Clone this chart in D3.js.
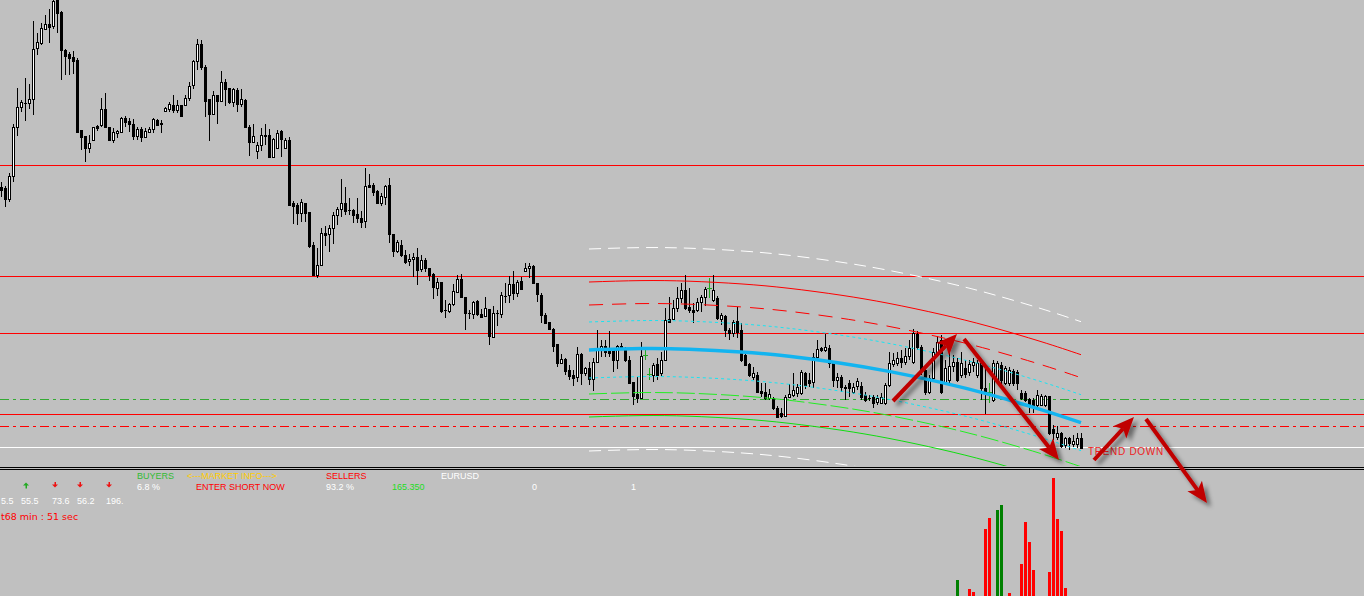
<!DOCTYPE html>
<html><head><meta charset="utf-8">
<script src="https://cdn.jsdelivr.net/npm/d3@7"></script>
<style>html,body{margin:0;padding:0;background:#c0c0c0;overflow:hidden}svg{display:block}</style>
</head><body><svg id="c" width="1364" height="596"></svg>
<script>
// ---- DATA (prices in points) ----
const candles = [
[813,818,803,810],[812,814,793,801],[801,827,798,824],[824,876,818,873],[873,912,864,893],[893,900,888,898],[897,922,879,897],[897,916,891,901],[901,979,885,951],[952,967,945,958],
[957,977,955,972],[971,985,970,976],[976,991,957,973],[974,1004,971,999],[1000,1004,967,987],[988,989,920,950],[950,951,925,944],[946,948,925,942],[943,949,926,939],[940,942,868,868],
[870,870,850,863],[864,864,838,852],[852,865,847,857],[860,873,859,873],[874,875,869,872],[875,902,873,891],[891,907,873,873],[873,873,860,860],[860,872,857,868],[867,870,862,869],
[868,883,867,882],[882,884,873,878],[879,882,868,876],[876,881,860,864],[864,873,860,871],[871,873,858,863],[863,872,862,869],[868,873,867,871],[871,882,867,881],[880,881,874,875],
[877,880,867,876],[889,893,888,892],[891,898,888,896],[895,905,887,890],[890,900,887,895],[895,895,883,884],[895,905,894,902],[902,918,899,914],[915,940,911,939],[939,961,930,956],
[956,960,930,933],[933,935,883,899],[901,901,859,886],[886,909,885,905],[905,905,876,899],[899,929,898,918],[918,921,894,911],[912,912,896,898],[898,912,893,911],[910,912,888,896],
[896,911,893,901],[900,901,873,873],[873,875,844,858],[858,876,857,864],[849,858,841,855],[855,872,849,865],[865,876,855,864],[865,871,842,843],[843,862,842,861],[852,870,851,867],
[869,870,843,861],[852,862,851,860],[860,863,795,795],[797,799,776,794],[795,797,775,787],[787,801,778,798],[797,797,778,787],[788,788,752,754],[755,758,725,725],[725,752,722,735],
[735,772,734,767],[767,774,754,765],[766,775,748,772],[772,788,756,785],[785,793,775,791],[791,821,783,797],[797,813,785,789],[790,802,785,790],[790,791,777,785],[786,802,777,782],
[782,789,772,778],[779,832,772,814],[815,826,813,813],[815,817,804,808],[809,810,797,797],[797,807,794,804],[803,815,795,814],[815,822,757,766],[766,766,743,749],[749,760,747,758],
[755,760,743,745],[745,750,736,738],[739,746,734,741],[741,747,723,743],[743,752,715,730],[731,745,728,740],[740,742,728,732],[732,732,719,725],[726,727,701,713],[712,722,704,718],
[718,718,687,689],[690,700,682,690],[689,697,687,696],[696,716,694,709],[708,725,707,721],[721,726,703,703],[703,703,670,687],[687,690,681,687],[686,699,681,698],[699,700,684,686],
[686,691,682,683],[684,703,683,692],[691,691,655,664],[663,694,663,687],[687,690,674,687],[686,708,682,705],[704,717,697,704],[705,724,697,716],[716,729,700,707],[707,720,703,718],
[719,723,710,711],[729,737,728,732],[732,737,722,734],[734,735,717,717],[717,717,698,706],[705,707,677,685],[685,687,676,677],[678,678,670,671],[671,672,648,654],[656,656,633,637],
[637,646,636,641],[641,642,625,629],[630,635,620,624],[625,630,614,622],[623,653,618,646],[646,647,615,627],[627,633,624,632],[632,638,615,621],[621,642,609,638],[638,670,637,652],
[651,660,643,654],[654,660,643,648],[652,669,643,647],[650,650,628,640],[640,655,631,654],[654,657,650,653],[650,653,638,640],[640,644,617,617],[618,618,595,604],[606,623,597,602],
[602,658,601,644],[645,650,640,645],[626,632,620,626],[625,637,618,635],[636,642,620,625],[627,648,624,640],[640,692,640,680],[681,703,677,678],[681,700,680,692],[692,713,688,702],
[702,717,697,710],[710,725,690,692],[693,712,687,690],[690,697,677,688],[690,702,688,698],[698,705,688,703],[703,713,694,711],[712,722,702,712],[700,725,698,710],[702,704,680,682],
[681,687,675,685],[684,685,663,670],[670,672,660,667],[667,680,663,678],[679,693,662,668],[670,677,638,640],[645,647,634,635],[636,637,623,625],[623,633,620,627],[625,628,607,608],
[609,617,603,607],[608,617,600,602],[602,611,600,606],[602,603,590,592],[592,594,583,583],[587,592,582,584],[584,605,583,603],[603,616,602,606],[605,627,603,610],[607,616,603,613],
[607,630,605,628],[627,628,611,615],[620,627,613,617],[618,647,612,643],[643,660,642,651],[652,653,648,650],[650,666,648,653],[652,655,632,637],[637,638,613,620],[620,627,612,623],
[623,625,608,613],[613,615,600,612],[617,620,603,612],[608,617,606,613],[614,622,610,619],[614,618,600,603],[605,608,598,600],[602,605,599,602],[603,605,592,597],[598,605,595,602],
[597,607,596,603],[597,617,595,615],[615,648,613,637],[636,647,633,640],[637,648,634,642],[642,650,632,638],[638,652,635,644],[644,660,640,652],[638,671,636,667],[666,669,650,653],
[653,655,625,630],[630,634,605,608],[608,625,606,622],[622,652,620,648],[648,664,645,658],[660,665,606,608],[618,640,615,632],[620,648,617,634],[634,645,628,638],[638,642,618,620],
[625,648,622,637],[632,640,622,626],[628,640,624,636],[635,642,628,638],[625,640,622,637],[637,638,600,612],[612,632,586,608],[608,617,597,608],[600,640,598,637],[620,639,618,637],
[635,638,616,620],[617,634,615,632],[617,633,614,630],[629,631,614,617],[628,630,610,617],[607,610,600,602],[607,609,598,600],[601,602,587,595],[600,602,587,595],[595,610,593,605],
[595,606,594,604],[595,605,593,604],[604,604,565,567],[571,575,560,567],[563,574,560,567],[567,568,552,554],[555,563,552,562],[562,563,550,557],[556,565,553,559],[556,567,552,562],
[562,567,551,552]
];
const signalBars = [161, 162, 177, 247];           // bars painted green by the indicator
const levelPrices = [835, 724, 667, 586, 574, 601, 553];
const channelIdx = [147,160,172,185,197,210,222,235,247,260,270];
const channelMid = [650,651.4,650.8,648.1,643.7,636.8,628.6,617.6,605.6,590.4,577.3];
const bandOffsets = [101, 68, 45, 28, -28, -44, -67, -101];
const histIdx = [239,242,243,246,247,249,250,252,255,256,257,258,262,263,264,265,266];
const histVal = [20,11,8,71,82,90,95,7,36,78,58,30,28,122,81,69,12];
const histUp  = [1,0,0,0,0,1,1,0,0,0,0,0,0,0,0,0,0];
const trendArrows = [ // [idx1, price1, idx2, price2]
  [223, 599, 239, 666], [240.75, 661, 264.5, 540], [273.25, 540, 283.25, 583], [286.25, 581, 301.5, 497]
];
const infoTexts = ['BUYERS','<---MARKET INFO--->','SELLERS','EURUSD','6.8 %','ENTER SHORT NOW','93.2 %','165.350','0','1','5.5','55.5','73.6','56.2','196.'];
const timerText = 't68 min : 51 sec';
const trendText = 'TREND DOWN';
const voteArrows = ['up','down','down','down'];

// ---- LAYOUT ----
const W = 1364, H = 596, MAIN_H = 466;
const svg = d3.select('#c');
const x = d3.scaleLinear().domain([0, 270]).range([1, 1081]);
const y = d3.scaleLinear().domain([1000, 534]).range([0, MAIN_H]);
const yH = d3.scaleLinear().domain([0, 130]).range([600, 470]);

svg.append('rect').attr('width', W).attr('height', H).attr('fill', '#c0c0c0');
const defs = svg.append('defs');
defs.append('clipPath').attr('id', 'clipMain').append('rect').attr('width', W).attr('height', MAIN_H);
const f = defs.append('filter').attr('id', 'shadow').attr('x', '-30%').attr('y', '-30%').attr('width', '160%').attr('height', '160%');
f.append('feDropShadow').attr('dx', 4).attr('dy', 4).attr('stdDeviation', 2).attr('flood-color', '#000').attr('flood-opacity', 0.45);

const gMain = svg.append('g').attr('clip-path', 'url(#clipMain)');

// horizontal levels
const levelStyle = [
  {c:'#ff0000', d:null}, {c:'#ff0000', d:null}, {c:'#ff0000', d:null}, {c:'#ff0000', d:null},
  {c:'#ff0000', d:'9,4,3,4'}, {c:'#33aa33', d:'9,4,3,4'}, {c:'#ffffff', d:null}
];
gMain.selectAll('line.lvl').data(levelPrices).join('line').attr('class', 'lvl')
  .attr('x1', 0).attr('x2', W)
  .attr('y1', d => Math.round(y(d)) + 0.5).attr('y2', d => Math.round(y(d)) + 0.5)
  .attr('stroke', (d, i) => levelStyle[i].c).attr('stroke-width', 1)
  .attr('stroke-dasharray', (d, i) => levelStyle[i].d);

// candles
const gC = gMain.append('g').attr('shape-rendering', 'crispEdges');
candles.forEach((d, i) => {
  const [o, h, l, c] = d;
  const cx = Math.round(x(i));
  const sig = signalBars.includes(i);
  const col = sig ? '#22aa22' : '#000';
  const yh = Math.round(y(h)), yl = Math.round(y(l));
  gC.append('rect').attr('x', cx).attr('y', yh).attr('width', 1).attr('height', Math.max(1, yl - yh)).attr('fill', col);
  const top = Math.round(y(Math.max(o, c))), bot = Math.round(y(Math.min(o, c)));
  if (bot - top < 1 || sig) {
    const w = sig ? 5 : 3;
    gC.append('rect').attr('x', cx - (w - 1) / 2).attr('y', top).attr('width', w).attr('height', 1).attr('fill', col);
  } else {
    gC.append('rect').attr('x', cx - 1).attr('y', top).attr('width', 3).attr('height', bot - top + 1).attr('fill', '#000');
    if (c > o && bot - top > 1) {
      gC.append('rect').attr('x', cx).attr('y', top + 1).attr('width', 1).attr('height', bot - top - 1).attr('fill', '#fff');
    }
  }
});

// regression channel
const bandStyle = [
  {c:'#ffffff', w:1, d:'12,7'}, {c:'#ff0000', w:1, d:null}, {c:'#ff0000', w:1, d:'14,9'}, {c:'#19e4f2', w:1, d:'3,3'},
  {c:'#19e4f2', w:1, d:'3,3'}, {c:'#22ee22', w:1, d:'18,4'}, {c:'#11dd11', w:1, d:null}, {c:'#ffffff', w:1, d:'12,7'}
];
const lineGen = off => d3.line().x((d, k) => x(channelIdx[k])).y(d => y(d + off)).curve(d3.curveNatural)(channelMid);
bandOffsets.forEach((off, k) => {
  gMain.append('path').attr('d', lineGen(off)).attr('fill', 'none')
    .attr('stroke', bandStyle[k].c).attr('stroke-width', bandStyle[k].w).attr('stroke-dasharray', bandStyle[k].d);
});
gMain.append('path').attr('d', lineGen(0)).attr('fill', 'none').attr('stroke', '#12b4f0').attr('stroke-width', 3.5);

// TREND DOWN text
svg.append('text').attr('x', x(271.75)).attr('y', y(545)).text(trendText)
  .attr('font-family', 'Liberation Sans, Arial, sans-serif').attr('font-size', 10).attr('letter-spacing', 0.7).attr('fill', '#ee1c1c');

// separator
svg.append('rect').attr('x', 0).attr('y', 467).attr('width', W).attr('height', 1).attr('fill', '#000');
svg.append('rect').attr('x', 0).attr('y', 469).attr('width', W).attr('height', 1).attr('fill', '#000');

// histogram
svg.append('g').attr('shape-rendering', 'crispEdges').selectAll('rect').data(histIdx).join('rect')
  .attr('x', d => Math.round(x(d)) - 1).attr('width', 3)
  .attr('y', (d, k) => yH(histVal[k])).attr('height', (d, k) => yH(0) - yH(histVal[k]))
  .attr('fill', (d, k) => histUp[k] ? '#008000' : '#ff0000');

// info panel texts
const infoPos = [
  [137,0,'#33bb33'],[187,0,'#ffcc00'],[326,0,'#ff0000'],[441,0,'#ffffff'],
  [137,1,'#ffffff'],[196,1,'#ff0000'],[326,1,'#ffffff'],[392,1,'#22dd22'],[532,1,'#ffffff'],[631,1,'#ffffff'],
  [1,2,'#ffffff'],[21,2,'#ffffff'],[52,2,'#ffffff'],[77,2,'#ffffff'],[106,2,'#ffffff']
];
const rowY = [479, 490, 504, 520];
svg.append('g').selectAll('text').data(infoTexts).join('text')
  .attr('x', (d, k) => infoPos[k][0]).attr('y', (d, k) => rowY[infoPos[k][1]])
  .attr('fill', (d, k) => infoPos[k][2])
  .attr('font-family', 'Liberation Sans, Arial, sans-serif').attr('font-size', 9).text(d => d);
svg.append('text').attr('x', 1).attr('y', rowY[3]).text(timerText)
  .attr('font-family', 'DejaVu Sans, sans-serif').attr('font-size', 9.5).attr('fill', '#ff0000');

// vote arrows
const voteX = [26, 55, 80, 109];
voteArrows.forEach((dir, k) => {
  const cx = voteX[k], cy = 485;
  const s = dir === 'up' ? -1 : 1;
  const col = dir === 'up' ? '#22aa22' : '#ee1111';
  svg.append('path').attr('d', `M${cx - 3},${cy - s * 0.5} L${cx},${cy + s * 2.5} L${cx + 3},${cy - s * 0.5} Z`).attr('fill', col);
  svg.append('rect').attr('x', cx - 0.5).attr('y', dir === 'up' ? cy : cy - 3).attr('width', 1.5).attr('height', 3.5).attr('fill', col);
});

// trend arrows
const gA = svg.append('g').attr('filter', 'url(#shadow)');
trendArrows.forEach(a => {
  const x1 = x(a[0]), y1 = y(a[1]), x2 = x(a[2]), y2 = y(a[3]);
  const ang = Math.atan2(y2 - y1, x2 - x1);
  const L = 21, hw = 9, notch = 16;
  const ux = Math.cos(ang), uy = Math.sin(ang), px = -uy, py = ux;
  const bx = x2 - ux * L, by = y2 - uy * L;
  const nx = x2 - ux * notch, ny = y2 - uy * notch;
  gA.append('line').attr('x1', x1).attr('y1', y1).attr('x2', nx).attr('y2', ny)
    .attr('stroke', '#c00000').attr('stroke-width', 4);
  gA.append('path').attr('d', `M${x2},${y2} L${bx + px * hw},${by + py * hw} L${nx},${ny} L${bx - px * hw},${by - py * hw} Z`)
    .attr('fill', '#c00000');
});
</script></body></html>
